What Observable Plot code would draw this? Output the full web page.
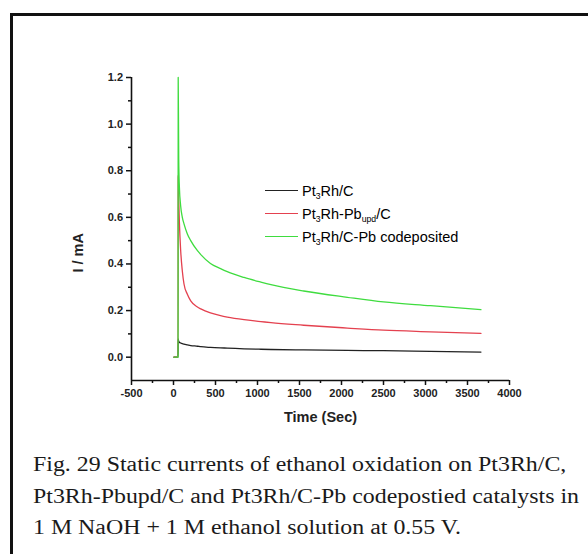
<!DOCTYPE html>
<html>
<head>
<meta charset="utf-8">
<script src="https://cdn.jsdelivr.net/npm/d3@7"></script>
<script src="https://cdn.jsdelivr.net/npm/@observablehq/plot@0.6"></script>
<style>
html,body{margin:0;padding:0;background:#fff;overflow:hidden;width:588px;height:554px;}
#frame{position:absolute;left:10px;top:13px;width:640px;height:640px;border:3px solid #111;box-sizing:border-box;}
#chart{position:absolute;left:0;top:0;}
#legend{position:absolute;left:265px;top:0;font-family:Arial,"Liberation Sans",sans-serif;font-size:14.5px;color:#000;}
.row{position:absolute;left:0;height:20px;white-space:nowrap;display:flex;align-items:center;}
.sw{display:inline-block;width:33px;height:0;border-top:1.3px solid;margin-right:4px;}
.row sub{font-size:0.6em;vertical-align:-0.4em;line-height:0;}
#caption{position:absolute;left:33px;top:449px;font-family:"Liberation Serif","Times New Roman",serif;font-size:20.5px;line-height:31.5px;color:#1a1a1a;white-space:nowrap;transform:scaleX(1.165);transform-origin:0 0;}
</style>
</head>
<body>
<div id="frame"></div>
<div id="chart"></div>
<div id="legend"></div>
<div id="caption">Fig. 29 Static currents of ethanol oxidation on Pt3Rh/C,<br>Pt3Rh-Pbupd/C and Pt3Rh/C-Pb codepostied catalysts in<br>1 M NaOH + 1 M ethanol solution at 0.55 V.</div>
<script>
// ---- data ----
const time   = [5, 54, 56, 62, 70, 85, 105, 125, 165, 205, 285, 325, 440, 560, 640, 840, 1040, 1160, 1550, 2070, 2500, 3060, 3660];
const blackI = [0, 0, 0.078, 0.068, 0.064, 0.061, 0.058, 0.056, 0.053, 0.050, 0.047, 0.045, 0.042, 0.040, 0.039, 0.036, 0.034, 0.033, 0.031, 0.029, 0.028, 0.025, 0.022];
const redI   = [0, 0, 0.78, 0.68, 0.58, 0.46, 0.37, 0.314, 0.27, 0.242, 0.215, 0.207, 0.19, 0.178, 0.172, 0.161, 0.153, 0.148, 0.137, 0.125, 0.116, 0.109, 0.102];
const greenI = [0, 0, 1.2, 0.85, 0.73, 0.65, 0.60, 0.572, 0.529, 0.50, 0.457, 0.44, 0.402, 0.38, 0.367, 0.342, 0.322, 0.311, 0.284, 0.257, 0.237, 0.221, 0.204];
const seriesNames  = ["Pt3Rh/C", "Pt3Rh-Pbupd/C", "Pt3Rh/C-Pb codeposited"];
const seriesHtml   = ["Pt<sub>3</sub>Rh/C", "Pt<sub>3</sub>Rh-Pb<sub>upd</sub>/C", "Pt<sub>3</sub>Rh/C-Pb codeposited"];
const seriesColors = ["#222222", "#e4414f", "#3fdc3f"];
const xTicks = [-500, 0, 500, 1000, 1500, 2000, 2500, 3000, 3500, 4000];
const xMinor = [-250, 250, 750, 1250, 1750, 2250, 2750, 3250, 3750];
const yTicks = [0, 0.2, 0.4, 0.6, 0.8, 1.0, 1.2];
const yMinor = [0.1, 0.3, 0.5, 0.7, 0.9, 1.1];
const xTitle = "Time (Sec)";
const yTitle = "I / mA";

const seriesValues = [blackI, redI, greenI];
const rows = [];
seriesNames.forEach((s, k) => time.forEach((t, i) => rows.push({t, I: seriesValues[k][i], s})));

const plot = Plot.plot({
  width: 588, height: 460,
  marginLeft: 131, marginRight: 79, marginTop: 77, marginBottom: 80,
  x: {domain: [-500, 4000]},
  y: {domain: [-0.1, 1.2]},
  color: {domain: seriesNames, range: seriesColors},
  style: {fontFamily: "Arial, 'Liberation Sans', sans-serif", fontSize: "11px", fontWeight: "bold", color: "#111", background: "transparent"},
  marks: [
    Plot.axisX(xTicks, {tickSize: 5, tickPadding: 4, tickFormat: d => String(d), label: null, strokeWidth: 1.5, fill: "#222"}),
    Plot.axisX(xMinor, {tickSize: 3, tickFormat: () => "", label: null, strokeWidth: 1.5}),
    Plot.axisY(yTicks, {tickSize: 5, tickPadding: 3.5, tickFormat: d => d.toFixed(1), label: null, strokeWidth: 1.5, fill: "#222"}),
    Plot.axisY(yMinor, {tickSize: 3, tickFormat: () => "", label: null, strokeWidth: 1.5}),
    Plot.ruleX([-500], {strokeWidth: 1.6}),
    Plot.ruleY([-0.1], {strokeWidth: 1.6}),
    Plot.line(rows, {x: "t", y: "I", z: "s", stroke: "s", strokeWidth: 1.3, curve: "monotone-x"}),
    Plot.text([xTitle], {frameAnchor: "bottom", dy: 41, fontSize: 14.5, fill: "#222"}),
    Plot.text([yTitle], {frameAnchor: "bottom-left", rotate: -90, dx: -49, dy: -108, fontSize: 14.5, fill: "#222"})
  ]
});
document.getElementById("chart").appendChild(plot);

// legend (HTML so that subscripts are real text)
const legend = document.getElementById("legend");
const rowCenters = [190.5, 213.5, 236.5];
seriesNames.forEach((s, k) => {
  const row = document.createElement("div");
  row.className = "row";
  row.style.top = (rowCenters[k] - 10) + "px";
  row.innerHTML = `<span class="sw" style="border-color:${seriesColors[k]}"></span><span>${seriesHtml[k]}</span>`;
  legend.appendChild(row);
});
</script>
</body>
</html>
